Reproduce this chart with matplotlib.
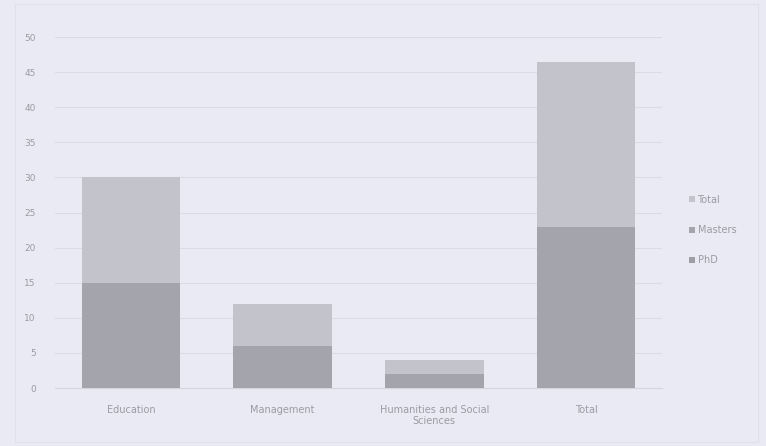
import matplotlib.pyplot as plt
import numpy as np

# stacked enrolment counts by field
categories = ["Education", "Management", "Humanities and Social\nSciences", "Total"]
phd = [0, 0, 0, 0]
masters = [15, 6, 2, 23]
total = [15, 6, 2, 23.5]
y_ticks = list(range(0, 55, 5))

bg = "#e9eaf3"
text_col = "#9a9ba3"
col_total = "#c2c3cb"
col_masters = "#a3a4ac"
col_phd = "#9c9da5"

fig = plt.figure(figsize=(7.66, 4.46), dpi=100, facecolor=bg)
ax = fig.add_axes([0.072, 0.130, 0.792, 0.787])
ax.set_facecolor(bg)

x = np.arange(len(categories))
w = 0.65
b1 = ax.bar(x, phd, w, color=col_phd, label="PhD", zorder=3)
b2 = ax.bar(x, masters, w, bottom=phd, color=col_masters, label="Masters", zorder=3)
base = np.array(phd) + np.array(masters)
b3 = ax.bar(x, total, w, bottom=base, color=col_total, label="Total", zorder=3)

ax.set_xlim(-0.5, len(categories) - 0.5)
ax.set_ylim(0, 50)
ax.set_yticks(y_ticks)
ax.yaxis.grid(True, color="#dadbe4", linewidth=0.8, zorder=0)
ax.set_xticks(x)
ax.set_xticklabels(categories, fontsize=7, color=text_col)
ax.tick_params(axis="y", labelsize=6.5, colors=text_col, length=0, pad=14)
ax.tick_params(axis="x", length=0, pad=12)
for s in ax.spines.values():
    s.set_visible(False)
ax.spines["bottom"].set_visible(True)
ax.spines["bottom"].set_color("#d4d5de")

leg = ax.legend(handles=[b3, b2, b1], loc="center left", bbox_to_anchor=(1.03, 0.45),
                frameon=False, fontsize=7, labelcolor=text_col,
                handlelength=0.6, handleheight=0.6, handletextpad=0.3, labelspacing=2.1)

# faint outer border of the chart area
fig.patches.append(plt.Rectangle((0.02, 0.01), 0.97, 0.98, transform=fig.transFigure,
                                 fill=False, edgecolor="#dfe0e8", linewidth=0.8))

fig.savefig("out.png", dpi=100, facecolor=bg)
